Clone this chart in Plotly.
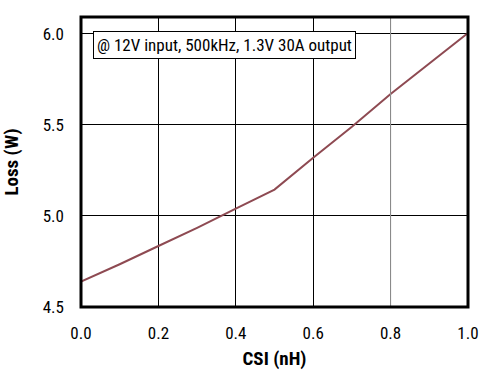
import plotly.graph_objects as go

csi_nh = [0.0, 0.1, 0.2, 0.3, 0.4, 0.5, 0.6, 0.7, 0.8, 0.9, 1.0]
loss_w = [4.64, 4.735, 4.835, 4.935, 5.04, 5.145, 5.32, 5.49, 5.67, 5.84, 6.005]

x_ticks = [0.0, 0.2, 0.4, 0.6, 0.8, 1.0]
x_tick_labels = ["0.0", "0.2", "0.4", "0.6", "0.8", "1.0"]
y_ticks = [4.5, 5.0, 5.5, 6.0]
y_tick_labels = ["4.5", "5.0", "5.5", "6.0"]

FONT = "Liberation Sans Narrow, Arial Narrow, Roboto Condensed, sans-serif"

fig = go.Figure()
fig.add_trace(go.Scatter(x=csi_nh, y=loss_w, mode="lines",
                         line=dict(color="#8e4a52", width=2), showlegend=False))

fig.update_layout(
    width=500, height=376,
    margin=dict(l=81, r=32, t=17, b=69),
    paper_bgcolor="white", plot_bgcolor="white",
    font=dict(family=FONT, size=16, color="black"),
    xaxis=dict(range=[0, 1.0], tickvals=x_ticks, ticktext=x_tick_labels,
               showgrid=True, gridcolor="black", gridwidth=1, zeroline=False,
               showline=False, ticks="", ticklen=0, ticklabelstandoff=14,
               tickfont=dict(size=17), automargin=False,
               title=dict(text="<b>CSI (nH)</b>", font=dict(size=19), standoff=9)),
    yaxis=dict(range=[4.5, 6.093], tickvals=y_ticks, ticktext=y_tick_labels,
               showgrid=True, gridcolor="black", gridwidth=1, zeroline=False,
               showline=False, ticks="", ticklen=0, ticklabelstandoff=16,
               tickfont=dict(size=17), automargin=False,
               title=dict(text="<b>Loss (W)</b>", font=dict(size=19), standoff=22)),
    shapes=[
        dict(type="line", xref="x", yref="paper", x0=0.8, x1=0.8, y0=0, y1=1,
             line=dict(color="#999999", width=1)),
        dict(type="rect", xref="paper", yref="paper", x0=0, x1=1, y0=0, y1=1,
             line=dict(color="black", width=3)),
    ],
    annotations=[
        dict(text="@ 12V input, 500kHz, 1.3V 30A output", xref="paper", yref="paper",
             x=0.031, y=0.905, xanchor="left", yanchor="middle", showarrow=False,
             font=dict(size=17), bgcolor="white", bordercolor="black", borderwidth=1,
             borderpad=3),
    ],
)

fig.write_html("out.html")
